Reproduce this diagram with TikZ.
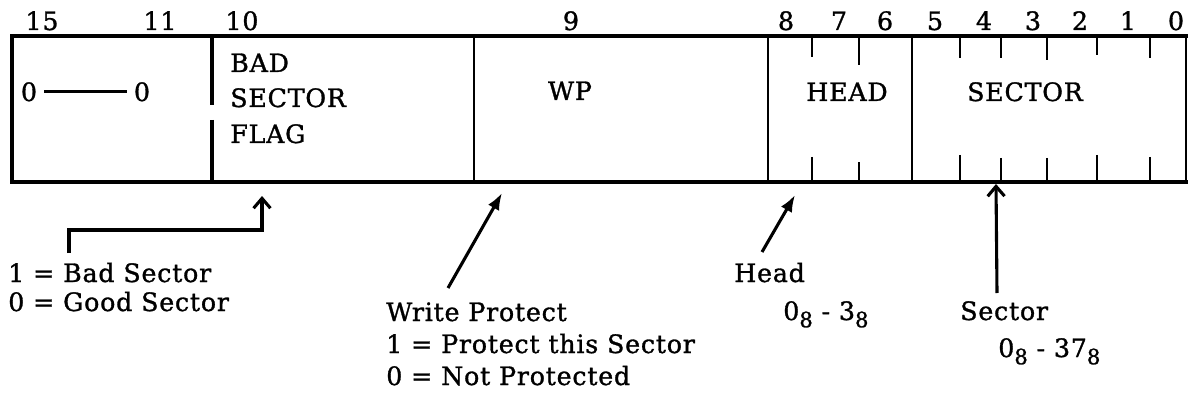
\documentclass[tikz,border=0pt]{standalone}
\usepackage{fontspec}
\setmainfont[FakeBold=1.2, LetterSpace=3]{DejaVu Serif}
\usetikzlibrary{arrows.meta, positioning}
\newcommand{\octsub}[1]{\raisebox{-0.55ex}{\fontsize{15}{17}\selectfont #1}}

\begin{document}
\begin{tikzpicture}[x=0.025cm, y=-0.025cm,
    lbl/.style={font=\fontsize{18}{22}\selectfont, inner sep=0pt},
    bitno/.style={lbl, anchor=base},
    note/.style={lbl, anchor=base west},
    frame/.style={line width=3.4pt, line cap=rect},
    field/.style={line width=1.9pt},
    tick/.style={line width=1.7pt},
    barb/.style={-{Straight Barb[length=7pt, width=12pt]}, line width=2.2pt},
    parr/.style={-{Latex[length=12pt, width=9pt]}, line width=2.2pt}
]
\useasboundingbox (0,0) rectangle (1194,400);

% Register outline
\draw[frame] (1186,36) -- (12,36) -- (12,182) -- (1186,182);
\draw[field] (1186,36) -- (1186,182);

% Field dividers
\draw[line width=2.6pt] (212,36) -- (212,105);
\draw[line width=2.6pt] (212,120) -- (212,182);
\draw[field] (474,36) -- (474,182);
\draw[field] (768,36) -- (768,182);
\draw[field] (912,36) -- (912,182);

% Bit ticks
\foreach \x/\t/\b in {812/57/157, 859/65/162, 960/58/155, 1001/58/158, 1047/60/158, 1097/55/155, 1150/58/157} {
    \draw[tick] (\x,36) -- (\x,\t);
    \draw[tick] (\x,\b) -- (\x,182);
}

% Bit numbers
\foreach \x/\n in {42/15, 160/11, 242/10, 571/9, 786/8, 839/7, 885/6, 935/5, 984/4, 1033/3, 1080/2, 1128/1, 1176/0}
    \node[bitno] (bit\n) at (\x,30) {\n};

% Field names
\node[bitno] (zlo) at (29,101) {0};
\node[bitno] (zhi) at (142,101) {0};
\draw[line width=2.2pt, shorten <=5pt, shorten >=5pt] (zlo) -- (zhi);
\node[note] (bsf1) at (230,72) {BAD};
\node[note] (bsf2) at (230,107) {SECTOR};
\node[note] (bsf3) at (230,143) {FLAG};
\node[bitno] (wp) at (570,100) {WP};
\node[bitno] (head) at (847,101) {HEAD};
\node[bitno] (sector) at (1025,101) {SECTOR};

% Notes below
\node[note] (bad1) at (8,282) {1 = Bad Sector};
\node[note] (bad0) at (8,311) {0 = Good Sector};
\node[note] (wpt) at (386,321) {Write Protect};
\node[note] (wp1) at (386,353) {1 = Protect this Sector};
\node[note] (wp0) at (386,385) {0 = Not Protected};
\node[note] (headt) at (734,282) {Head};
\node[note] (headr) at (783,320) {0\octsub{8} - 3\octsub{8}};
\node[note] (sect) at (960,320) {Sector};
\node[note] (secr) at (998,357) {0\octsub{8} - 37\octsub{8}};

% Pointers
\coordinate (badfoot) at (69,253);
\coordinate (badtip) at (262,196);
\coordinate (wpfoot) at (448,288);
\coordinate (wptip) at (502,193);
\coordinate (headfoot) at (762,252);
\coordinate (headtip) at (795,195);
\coordinate (secfoot) at (997,293);
\coordinate (sectip) at (996,184);
\draw[barb] (badfoot) -- ++(0,-23) -| (badtip);
\draw[parr] (wpfoot) -- (wptip);
\draw[parr] (headfoot) -- (headtip);
\draw[barb] (secfoot) -- (sectip);

\end{tikzpicture}
\end{document}
